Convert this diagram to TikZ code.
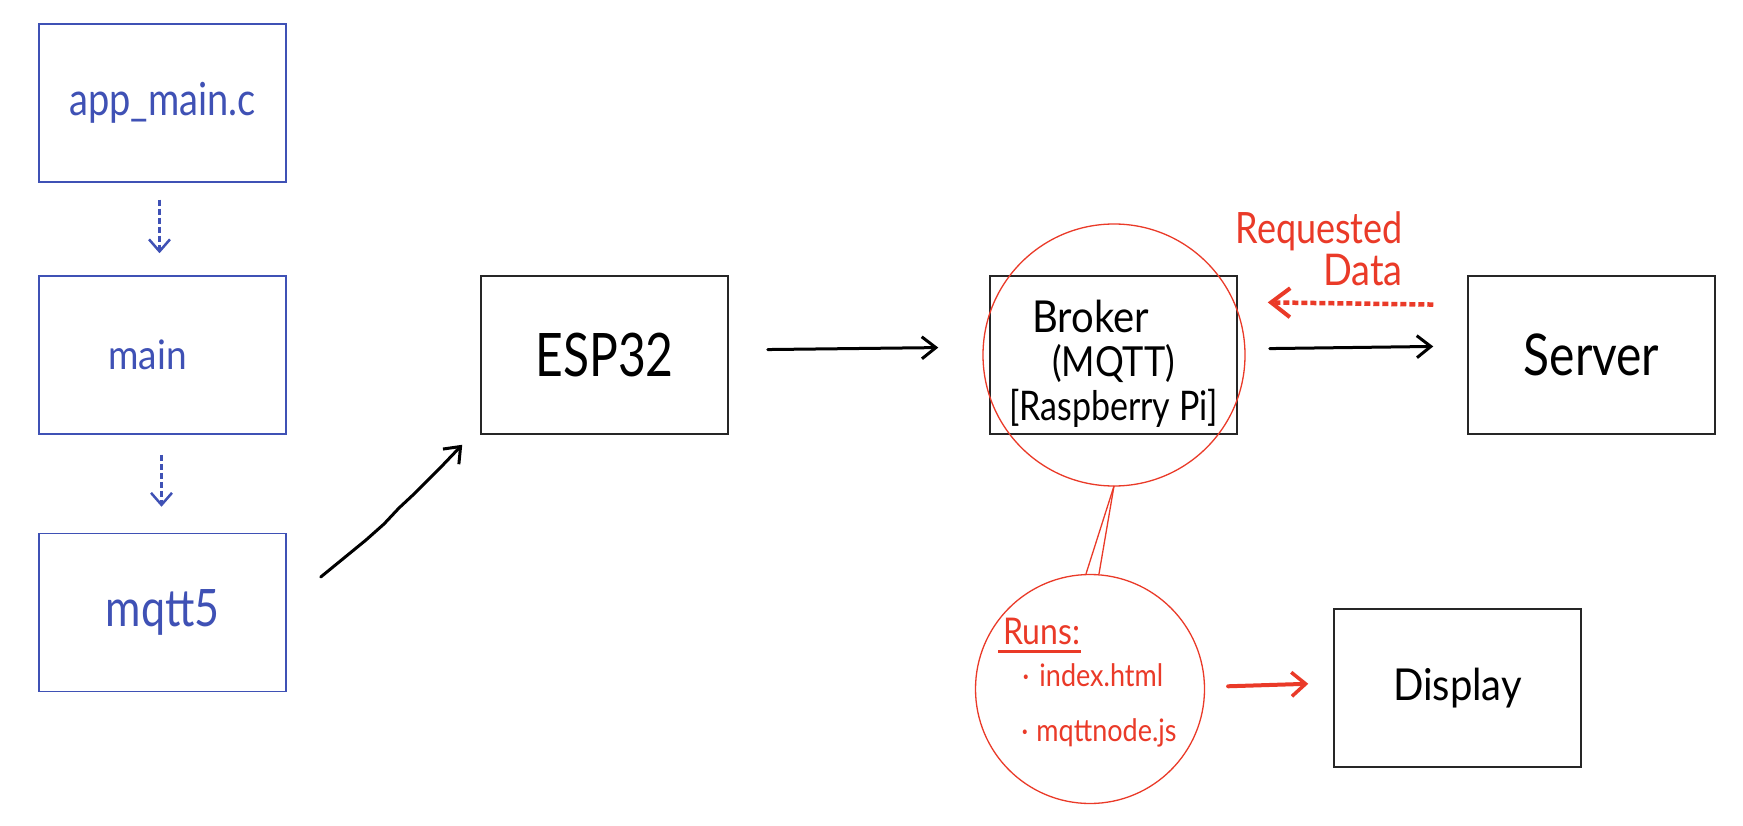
\documentclass[tikz,border=0pt]{standalone}
\usepackage{fontspec}
\setmainfont{Lato}
\usetikzlibrary{arrows.meta}
\definecolor{hblue}{RGB}{63,81,181}
\definecolor{hred}{RGB}{234,58,40}
\newcommand{\fs}[1]{\fontsize{#1}{#1}\selectfont}
\newcommand{\tallx}[2][1.25]{\scalebox{1}[#1]{#2}}
\begin{document}
\begin{tikzpicture}[x=1pt,y=-1pt,
  bluebox/.style={draw=hblue, line width=1.5pt, minimum width=247pt, minimum height=158pt, inner sep=0pt, text=hblue},
  blackbox/.style={draw=black!85, line width=1.5pt, minimum width=247pt, minimum height=158pt, inner sep=0pt, text=black},
  bluearrow/.style={draw=hblue, line width=2.5pt, dash pattern=on 6pt off 3pt, -{Straight Barb[length=12pt,width=21pt,line width=2.5pt]}},
  blackarrow/.style={draw=black, line width=3pt, line cap=round, line join=round, -{Straight Barb[length=14pt,width=22pt,line width=3pt]}},
  redarrow/.style={draw=hred, line width=4pt, line cap=round, -{Straight Barb[length=14pt,width=24pt,line width=3.5pt]}},
  reddash/.style={draw=hred, line width=4.5pt, dash pattern=on 6pt off 3pt, -{Straight Barb[length=19pt,width=29pt,line width=4pt]}},
  bubble/.style={draw=hred, line width=1.3pt, circle, inner sep=0pt}
]
\useasboundingbox[fill=white] (0,0) rectangle (1743,826);

% left column
\node[bluebox] (app) at (162.5,103) {\fs{38}\tallx[1.2]{app\_main.c}};
\node[bluebox] (main) at (162.5,355) {\fs{37}\hspace*{-30pt}\tallx[1.1]{main}};
\node[bluebox] (mqtt) at (162.5,612.5) {\fs{43}\tallx[1.2]{mqtt5}};

% main row
\node[blackbox] (esp) at (604.5,355) {\fs{48}\tallx[1.25]{ESP32}};
\node[blackbox, align=center] (broker) at (1113.5,355)
  {\fs{40}\rule{0pt}{50pt}\hspace*{-46pt}\tallx[1.1]{Broker}\\[10pt]
   \fs{36}\tallx[1.15]{(MQTT)}\\[6pt]
   \fs{34}\tallx[1.2]{{[}Raspberry Pi{]}}};
\node[blackbox] (srv) at (1591.5,355) {\fs{48}\tallx[1.2]{Server}};
\node[blackbox] (disp) at (1457.5,688) {\fs{40}\tallx[1.1]{Display}};

% bubbles
\coordinate (bc) at (1114,355);
\draw[hred, line width=1.3pt] (bc) circle[radius=131pt];
\node[bubble, minimum size=229pt, text=hred, align=left] (runs) at (1090,689)
  {\fs{32}\hspace*{-5pt}\rlap{\rule[-8pt]{83pt}{2.5pt}}\hspace*{5pt}\tallx[1.15]{Runs:}\\[10pt]
   \fs{27}\hspace*{19pt}\tallx[1.15]{·\hspace{10pt}index.html}\\[31pt]
   \fs{27}\hspace*{18pt}\tallx[1.15]{·\hspace{8pt}mqttnode.js}\rule[-18pt]{0pt}{1pt}};
\coordinate (btail) at ([yshift=-131pt]bc);
\draw[hred, line width=1.3pt] (btail) -- ([xshift=-4pt]runs.north);
\draw[hred, line width=1.3pt] (btail) -- ([xshift=9pt]runs.north);

% requested data label
\node[text=hred, align=right, anchor=east, inner sep=0pt] (req) at (1403,249)
  {\fs{36}\tallx[1.2]{Requested}\\[2pt]\fs{38}\tallx[1.15]{Data}};

% connectors
\draw[bluearrow, shorten <=17pt, shorten >=22pt] ([xshift=-3pt]app.south) -- ([xshift=-3pt]main.north);
\draw[bluearrow, shorten <=20pt, shorten >=26pt] ([xshift=-1pt]main.south) -- ([xshift=-1pt]mqtt.north);

\coordinate (m1) at ([shift={(34pt,35.5pt)}]mqtt.east);
\coordinate (e1) at ([shift={(-18pt,-10pt)}]esp.south west);
\draw[blackarrow] (m1) -- (366,540) -- (384,524) -- (399,508) -- (414,494) -- (430,478) -- (441,467) -- (e1);

\draw[blackarrow, shorten <=39pt, shorten >=51pt] ([yshift=5pt]esp.east) -- ([yshift=8pt]broker.west);
\draw[blackarrow, shorten <=32pt, shorten >=34pt] ([yshift=6pt]broker.east) -- ([yshift=9pt]srv.west);
\draw[reddash, shorten <=34pt, shorten >=30pt] ([yshift=50pt]srv.west) -- ([yshift=53pt]broker.east);
\draw[redarrow, shorten <=23pt, shorten >=25pt] ([yshift=2pt]runs.east) -- ([yshift=5pt]disp.west);
\end{tikzpicture}
\end{document}
